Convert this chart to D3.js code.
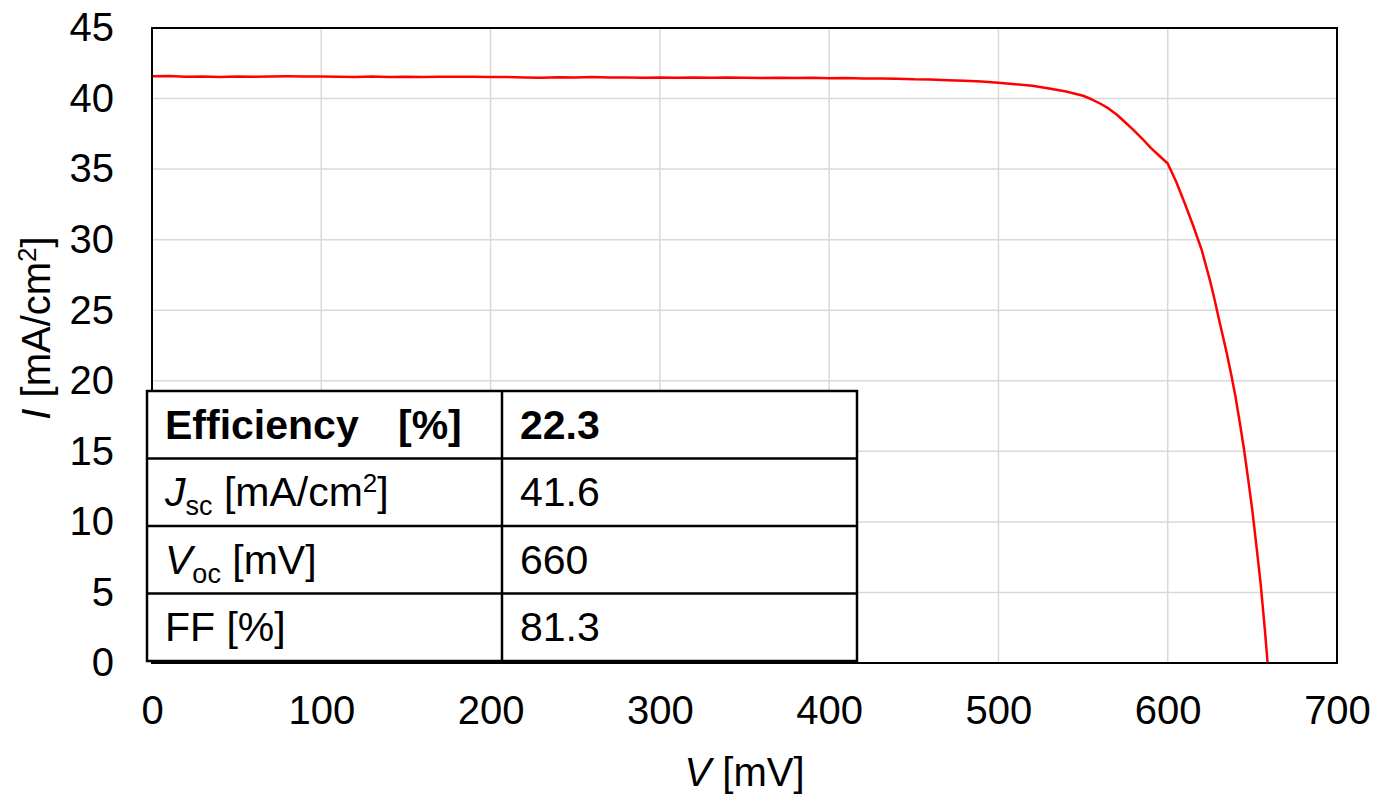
<!DOCTYPE html>
<html>
<head>
<meta charset="utf-8">
<script src="https://cdn.jsdelivr.net/npm/d3@7"></script>
<style>
  body { margin: 0; background: #fff; }
  svg { font-family: "Liberation Sans", Arial, sans-serif; }
  .axis path, .axis line { display: none; }
  .axis text { font-size: 40px; fill: #000; }
</style>
</head>
<body>
<div id="chart"></div>
<script>
const voltage = [0, 10, 20, 30, 40, 50, 60, 70, 80, 90, 100, 110, 120, 130, 140, 150, 160, 170, 180, 190,
  200, 210, 220, 230, 240, 250, 260, 270, 280, 290, 300, 310, 320, 330, 340, 350, 360, 370, 380, 390,
  400, 410, 420, 430, 440, 450, 460, 470, 480, 490, 500, 510, 520, 530, 540, 550, 555, 560, 565, 570,
  575, 580, 585, 590, 595, 600, 605, 610, 615, 620, 625, 627.5, 630, 632.5, 635, 637.5, 640, 642.5, 645,
  647.5, 650, 652.5, 655, 657.5, 659];
const current = [41.58, 41.60, 41.55, 41.57, 41.52, 41.56, 41.55, 41.57, 41.58, 41.57, 41.56, 41.55, 41.53, 41.56, 41.52, 41.54, 41.53, 41.55, 41.54, 41.55,
  41.53, 41.52, 41.50, 41.47, 41.51, 41.50, 41.52, 41.49, 41.50, 41.48, 41.50, 41.48, 41.49, 41.47, 41.49, 41.48, 41.46, 41.47, 41.45, 41.47,
  41.44, 41.45, 41.42, 41.43, 41.40, 41.36, 41.35, 41.30, 41.27, 41.20, 41.12, 41.02, 40.90, 40.72, 40.50, 40.20, 39.95, 39.65, 39.30, 38.85,
  38.30, 37.75, 37.15, 36.50, 35.95, 35.40, 34.10, 32.60, 31.00, 29.30, 27.10, 25.85, 24.50, 23.20, 21.90, 20.45, 18.90, 17.10, 15.20,
  13.05, 10.80, 8.20, 5.50, 2.20, 0];

const xTicks = [0, 100, 200, 300, 400, 500, 600, 700];
const yTicks = [0, 5, 10, 15, 20, 25, 30, 35, 40, 45];

const tableLabels = ["Efficiency", "Jsc", "Voc", "FF"];
const tableValues = ["22.3", "41.6", "660", "81.3"];

const width = 1375;
const height = 795;
const margin = { top: 28, right: 38, bottom: 132, left: 152 };
const plotWidth = width - margin.left - margin.right;
const plotHeight = height - margin.top - margin.bottom;

const svg = d3.select("#chart").append("svg")
  .attr("width", width)
  .attr("height", height);

const g = svg.append("g")
  .attr("transform", `translate(${margin.left},${margin.top})`);

const x = d3.scaleLinear().domain([0, 700]).range([0, plotWidth]);
const y = d3.scaleLinear().domain([0, 45]).range([plotHeight, 0]);

// grid
g.append("g").selectAll("line")
  .data(xTicks)
  .join("line")
  .attr("x1", (d) => x(d)).attr("x2", (d) => x(d))
  .attr("y1", 0).attr("y2", plotHeight)
  .attr("stroke", "#d9d9d9").attr("stroke-width", 1.5);

g.append("g").selectAll("line")
  .data(yTicks)
  .join("line")
  .attr("y1", (d) => y(d)).attr("y2", (d) => y(d))
  .attr("x1", 0).attr("x2", plotWidth)
  .attr("stroke", "#d9d9d9").attr("stroke-width", 1.5);

// axes labels
g.append("g")
  .attr("class", "axis")
  .attr("transform", `translate(0,${plotHeight})`)
  .call(d3.axisBottom(x).tickValues(xTicks).tickSize(0).tickPadding(33));

g.append("g")
  .attr("class", "axis")
  .call(d3.axisLeft(y).tickValues(yTicks).tickSize(0).tickPadding(38));

// curve
const data = voltage.map((v, i) => ({ v, i: current[i] }));
const line = d3.line().x((d) => x(d.v)).y((d) => y(d.i));

g.append("path")
  .datum(data)
  .attr("fill", "none")
  .attr("stroke", "#ff0000")
  .attr("stroke-width", 2.5)
  .attr("stroke-linejoin", "round")
  .attr("d", line);

// plot border
g.append("rect")
  .attr("width", plotWidth)
  .attr("height", plotHeight)
  .attr("fill", "none")
  .attr("stroke", "#000")
  .attr("stroke-width", 2);

// axis titles
const xt = svg.append("text")
  .attr("x", margin.left + plotWidth / 2)
  .attr("y", 786)
  .attr("text-anchor", "middle")
  .attr("font-size", 40);
xt.append("tspan").attr("font-style", "italic").text("V");
xt.append("tspan").text(" [mV]");

const yt = svg.append("text")
  .attr("transform", `translate(50,${margin.top + 300}) rotate(-90)`)
  .attr("text-anchor", "middle")
  .attr("font-size", 40);
yt.append("tspan").attr("font-style", "italic").text("I");
yt.append("tspan").text(" [mA/cm");
yt.append("tspan").attr("font-size", 26).attr("dy", -14).text("2");
yt.append("tspan").attr("dy", 14).text("]");

// table
const tX0 = 147, tX1 = 502, tX2 = 857;
const tY0 = 391, rowH = 67.5;
const table = svg.append("g");

table.append("rect")
  .attr("x", tX0).attr("y", tY0)
  .attr("width", tX2 - tX0).attr("height", rowH * 4)
  .attr("fill", "#fff").attr("stroke", "#000").attr("stroke-width", 2.5);

table.append("line")
  .attr("x1", tX1).attr("x2", tX1)
  .attr("y1", tY0).attr("y2", tY0 + rowH * 4)
  .attr("stroke", "#000").attr("stroke-width", 2.5);

for (let r = 1; r < 4; r++) {
  table.append("line")
    .attr("x1", tX0).attr("x2", tX2)
    .attr("y1", tY0 + rowH * r).attr("y2", tY0 + rowH * r)
    .attr("stroke", "#000").attr("stroke-width", 2.5);
}

const fs = 41;
tableLabels.forEach((lab, r) => {
  const cy = tY0 + rowH * r + rowH / 2 + 14;
  const t = table.append("text").attr("x", 165).attr("y", cy).attr("font-size", fs);
  if (lab === "Efficiency") {
    t.attr("font-weight", "bold");
    t.append("tspan").text("Efficiency");
    t.append("tspan").attr("x", 398).text("[%]");
  } else if (lab === "Jsc") {
    t.append("tspan").attr("font-style", "italic").text("J");
    t.append("tspan").attr("font-size", 27).attr("dy", 9).text("sc");
    t.append("tspan").attr("dy", -9).text(" [mA/cm");
    t.append("tspan").attr("font-size", 26).attr("dy", -14).text("2");
    t.append("tspan").attr("dy", 14).text("]");
  } else if (lab === "Voc") {
    t.append("tspan").attr("font-style", "italic").text("V");
    t.append("tspan").attr("font-size", 27).attr("dy", 9).text("oc");
    t.append("tspan").attr("dy", -9).text(" [mV]");
  } else {
    t.text("FF [%]");
  }
  table.append("text")
    .attr("x", 520).attr("y", cy)
    .attr("font-size", fs)
    .attr("font-weight", r === 0 ? "bold" : "normal")
    .text(tableValues[r]);
});
</script>
</body>
</html>
